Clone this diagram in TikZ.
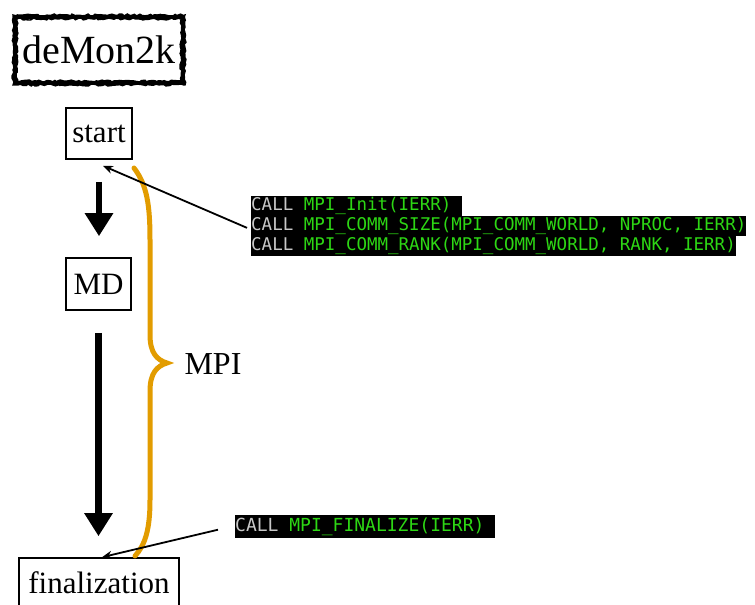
\documentclass[tikz,border=0pt]{standalone}
\usepackage{fontspec}
\setmainfont{Liberation Serif}
\newfontfamily\codefont{DejaVu Sans Mono}
\usetikzlibrary{arrows.meta,decorations.pathmorphing}
\definecolor{braceorange}{RGB}{226,156,0}
\definecolor{codegreen}{RGB}{45,215,20}
\definecolor{codegray}{RGB}{200,200,200}
\tikzset{
  stepbox/.style={draw=black, line width=1.6pt, inner sep=0pt, font=\fontsize{31}{34}\selectfont},
  bigarrow/.style={line width=6.5pt, -{Triangle[length=23pt,width=27pt]}, shorten <=22pt, shorten >=21pt},
  callout/.style={line width=1.8pt, -{Stealth[length=10pt,width=8pt]}},
  codeline/.style={fill=black, inner xsep=0pt, inner ysep=0pt, anchor=north west, text height=14.5pt, text depth=5pt, font=\codefont\fontsize{17.5}{19.5}\selectfont},
  codelinebig/.style={codeline, text height=16pt, text depth=7pt, font=\codefont\fontsize{18}{21}\selectfont},
  bracestyle/.style={draw=braceorange, line width=5pt, line cap=round},
  roughline/.style={line width=1.4pt, decorate, decoration={random steps, segment length=2.5pt, amplitude=1pt}}
}
\newcommand{\callkw}{\textcolor{codegray}{CALL}\ }
\begin{document}
\begin{tikzpicture}[x=1pt,y=-1pt]
\useasboundingbox (0,0) rectangle (755,605);

% title box with rough frame
\node[draw=black, line width=4.5pt, outer sep=0pt, minimum width=168pt, minimum height=66pt, inner sep=0pt,
      font=\fontsize{40}{43}\selectfont] (demon) at (99,50) {deMon2k};
\pgfmathsetseed{7}
\draw[roughline] ([xshift=-2pt,yshift=2pt]demon.north west) rectangle ([xshift=2pt,yshift=-2pt]demon.south east);
\draw[roughline] ([xshift=2pt,yshift=-2pt]demon.north west) rectangle ([xshift=-2pt,yshift=2pt]demon.south east);

% flow nodes
\node[stepbox, minimum width=66pt, minimum height=51pt] (start) at (99,133.5) {start};
\node[stepbox, minimum width=65pt, minimum height=52pt] (md) at (98.5,284) {MD};
\node[stepbox, minimum width=160pt, minimum height=50pt] (fin) at (99,583) {finalization};

% thick arrows
\draw[bigarrow] (start.south) -- (start.south |- md.north);
\draw[bigarrow] (md.south) -- (md.south |- fin.north);

% brace
\draw[bracestyle] (134,168) .. controls (147,185) and (150,205) .. (150,240)
  -- (150,335) .. controls (150,353) and (157,360) .. (167,363)
  .. controls (157,366) and (150,373) .. (150,391)
  -- (150,500) .. controls (150,530) and (145,545) .. (135,556);
\node[font=\fontsize{32}{35}\selectfont, inner sep=0pt] (mpi) at (213,364) {MPI};

% code lines
\node[codeline] (c1) at (251,196) {\callkw\textcolor{codegreen}{MPI\_Init(IERR)~}};
\node[codeline] (c2) at (c1.south west) {\callkw\textcolor{codegreen}{MPI\_COMM\_SIZE(MPI\_COMM\_WORLD, NPROC, IERR)}};
\node[codeline] (c3) at (c2.south west) {\callkw\textcolor{codegreen}{MPI\_COMM\_RANK(MPI\_COMM\_WORLD, RANK, IERR)}};
\node[codelinebig] (c4) at (235,515) {\callkw\textcolor{codegreen}{MPI\_FINALIZE(IERR)~}};

% callouts
\coordinate (k1) at ([xshift=-4pt,yshift=-2pt]c2.west);
\coordinate (k2) at ([xshift=-17pt,yshift=-3pt]c4.west);
\draw[callout] (k1) -- ([xshift=4pt,yshift=-6pt]start.south);
\draw[callout] (k2) -- ([xshift=3pt]fin.north);
\end{tikzpicture}
\end{document}
